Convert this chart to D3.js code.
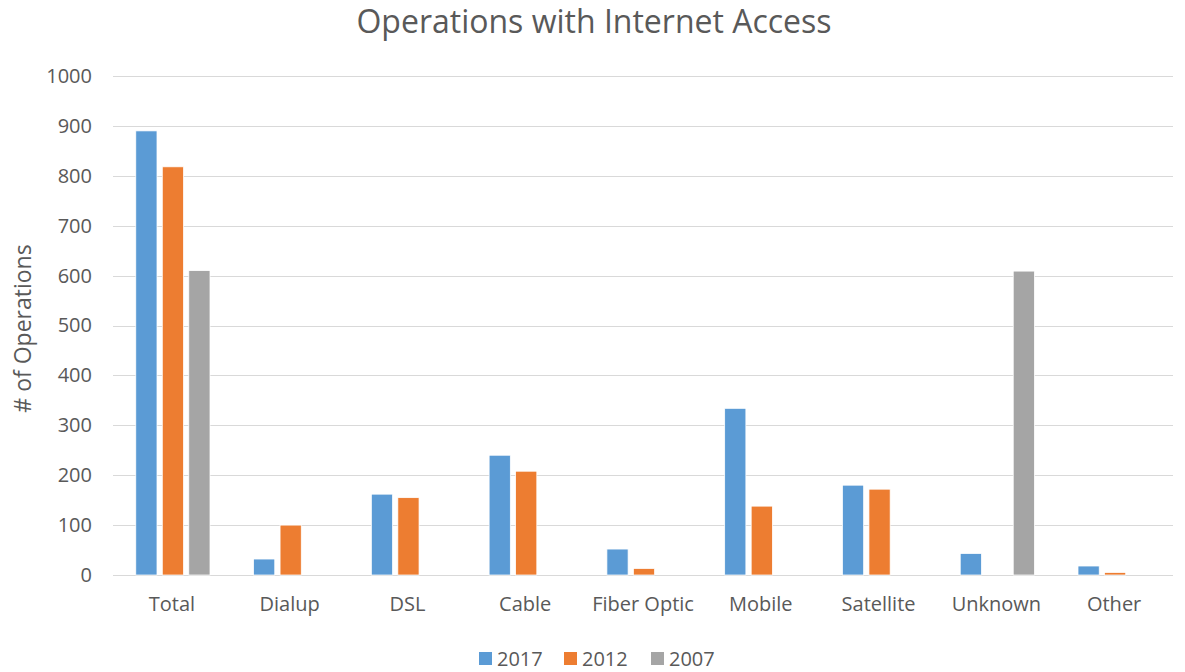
<!DOCTYPE html>
<html>
<head>
<meta charset="utf-8">
<script src="https://cdn.jsdelivr.net/npm/d3@7"></script>
<style>
    body { margin: 0; background: #fff; }
    svg text { font-family: "Open Sans", "Noto Sans", sans-serif; fill: #595959; }
</style>
</head>
<body>
<svg id="dessin" width="1185" height="672"></svg>
<script>
// données
const categories = ["Total", "Dialup", "DSL", "Cable", "Fiber Optic", "Mobile", "Satellite", "Unknown", "Other"];
const annees = ["2017", "2012", "2007"];
const valeurs2017 = [890, 32, 162, 240, 52, 334, 180, 43, 18];
const valeurs2012 = [818, 100, 155, 208, 13, 138, 172, 0, 5];
const valeurs2007 = [610, 0, 0, 0, 0, 0, 0, 609, 0];
const couleurs = ["#5b9bd5", "#ed7d31", "#a5a5a5"];
const yTicks = [0, 100, 200, 300, 400, 500, 600, 700, 800, 900, 1000];

const series = [valeurs2017, valeurs2012, valeurs2007];

const svg = d3.select("#dessin");
const marge = { left: 113, right: 12, top: 76, bottom: 97 };
const largeur = 1185 - marge.left - marge.right;
const hauteur = 672 - marge.top - marge.bottom;

const g = svg.append("g").attr("transform", `translate(${marge.left},${marge.top})`);

const x = d3.scaleBand().domain(categories).range([0, largeur]).paddingInner(0.37).paddingOuter(0.185);
const xSerie = d3.scaleBand().domain(annees).range([0, x.bandwidth()]).paddingInner(0.2);
const y = d3.scaleLinear().domain([0, 1000]).range([hauteur, 0]);

// lignes de grille
g.append("g")
    .selectAll("line")
    .data(yTicks)
    .enter()
    .append("line")
    .attr("x1", 0)
    .attr("x2", largeur)
    .attr("y1", d => Math.round(y(d)) + 0.5)
    .attr("y2", d => Math.round(y(d)) + 0.5)
    .style("stroke", "#d9d9d9")
    .style("stroke-width", 1);

// axe y
const axeY = g.append("g")
    .call(d3.axisLeft(y).tickValues(yTicks).tickFormat(d3.format("d")).tickSize(0).tickPadding(21));
axeY.select(".domain").remove();
axeY.selectAll("text").style("font-size", "20px").style("fill", "#595959");

// axe x
const axeX = g.append("g")
    .attr("transform", `translate(0,${hauteur})`)
    .call(d3.axisBottom(x).tickSize(0).tickPadding(22));
axeX.select(".domain").remove();
axeX.selectAll("text").style("font-size", "20px").style("fill", "#595959");

// barres
const groupes = g.selectAll(".cat")
    .data(categories)
    .enter()
    .append("g")
    .attr("class", "cat")
    .attr("transform", d => `translate(${x(d) + 1},0)`);

groupes.selectAll("rect")
    .data((d, i) => annees.map((a, j) => ({ annee: a, valeur: series[j][i], j: j })))
    .enter()
    .filter(d => d.valeur > 0)
    .append("rect")
    .attr("x", d => xSerie(d.annee))
    .attr("width", xSerie.bandwidth())
    .attr("y", d => y(d.valeur))
    .attr("height", d => hauteur - y(d.valeur))
    .style("fill", d => couleurs[d.j])
    .style("stroke", "#fff")
    .style("stroke-width", 0.75);

// titre
svg.append("text")
    .attr("x", 594)
    .attr("y", 33)
    .attr("text-anchor", "middle")
    .style("font-size", "32px")
    .text("Operations with Internet Access");

// titre axe y
svg.append("text")
    .attr("transform", `translate(31,${marge.top + hauteur / 2 + 3}) rotate(-90)`)
    .attr("text-anchor", "middle")
    .style("font-size", "23px")
    .text("# of Operations");

// légende
const legende = svg.append("g").attr("transform", "translate(479,652)");
const pas = [0, 85, 172];
annees.forEach((a, i) => {
    legende.append("rect")
        .attr("x", pas[i])
        .attr("y", 0)
        .attr("width", 13)
        .attr("height", 13)
        .style("fill", couleurs[i]);
    legende.append("text")
        .attr("x", pas[i] + 18)
        .attr("y", 14)
        .style("font-size", "20px")
        .text(a);
});
</script>
</body>
</html>
